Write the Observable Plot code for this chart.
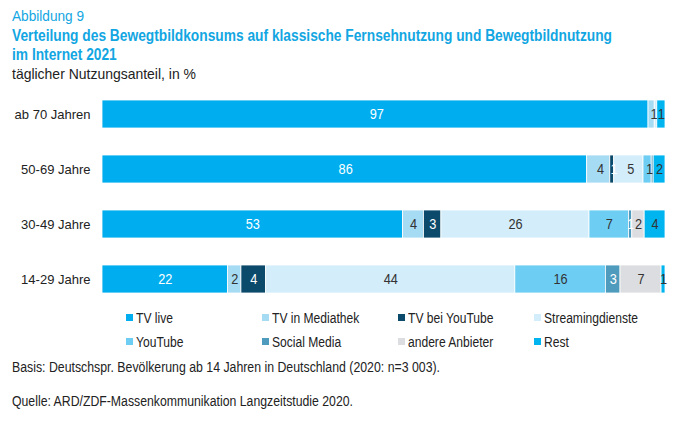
<!DOCTYPE html>
<html>
<head>
<meta charset="utf-8">
<script src="https://cdn.jsdelivr.net/npm/d3@7"></script>
<script src="https://cdn.jsdelivr.net/npm/@observablehq/plot@0.6"></script>
<style>
  html, body { margin: 0; padding: 0; background: #fff; }
  body { width: 694px; height: 427px; position: relative; overflow: hidden;
         font-family: "Liberation Sans", Arial, sans-serif; color: #222; }
  .abs { position: absolute; white-space: nowrap; display: inline-block; transform-origin: 0 50%; }
  #fig { left: 12px; top: 7px; font-size: 15px; color: #12a6e2; }
  #title1 { left: 12px; top: 27px; font-size: 16px; font-weight: bold; color: #12a6e2; }
  #title2 { left: 12px; top: 46px; font-size: 16px; font-weight: bold; color: #12a6e2; }
  #sub { left: 12px; top: 65px; font-size: 15px; color: #222; }
  #chart { left: 0; top: 86px; }
  .leg { position: absolute; font-size: 14px; white-space: nowrap; height: 16px; }
  .leg .sw { position: absolute; left: 0; top: 4px; width: 7px; height: 7px; }
  .leg .lt { position: absolute; left: 10px; top: 0; display: inline-block; transform-origin: 0 50%; line-height: 16px; }
  #basis { left: 12px; top: 359px; font-size: 14px; }
  #quelle { left: 12px; top: 393px; font-size: 14px; }
</style>
</head>
<body>
<div id="fig" class="abs">Abbildung 9</div>
<div id="title1" class="abs">Verteilung des Bewegtbildkonsums auf klassische Fernsehnutzung und Bewegtbildnutzung</div>
<div id="title2" class="abs">im Internet 2021</div>
<div id="sub" class="abs">täglicher Nutzungsanteil, in %</div>
<div id="chart" class="abs"></div>
<div id="legend"></div>
<div id="basis" class="abs">Basis: Deutschspr. Bevölkerung ab 14 Jahren in Deutschland (2020: n=3 003).</div>
<div id="quelle" class="abs">Quelle: ARD/ZDF-Massenkommunikation Langzeitstudie 2020.</div>
<script>
const groups = ["ab 70 Jahren", "50-69 Jahre", "30-49 Jahre", "14-29 Jahre"];
const series = ["TV live", "TV in Mediathek", "TV bei YouTube", "Streamingdienste",
                "YouTube", "Social Media", "andere Anbieter", "Rest"];
const colors = ["#00aeef", "#a6dbf4", "#0c4a6c", "#d3edfa",
                "#6dcdf3", "#4f9bbd", "#dcdde0", "#00b4f0"];
const labelColors = ["#fff", "#333", "#fff", "#333", "#333", "#fff", "#333", "#333"];

// shares per age group (ab 70, 50-69, 30-49, 14-29)
const tvLive     = [96.5, 86.0, 53.4, 22.3];
const mediathek  = [1.1, 4.1, 3.7, 2.4];
const tvYouTube  = [0, 0.7, 3.1, 4.4];
const streaming  = [0.45, 5.2, 26.3, 44.3];
const youtube    = [0, 1.45, 7.0, 16.1];
const social     = [0, 0.35, 0.6, 2.6];
const andere     = [0, 0, 2.2, 7.3];
const rest       = [1.45, 2.1, 3.7, 0.7];

const valuesBySeries = [tvLive, mediathek, tvYouTube, streaming, youtube, social, andere, rest];
const data = [];
series.forEach((s, i) => {
  groups.forEach((g, j) => {
    const v = valuesBySeries[i][j];
    if (v > 0) data.push({group: g, series: s, value: v, labelColor: labelColors[i]});
  });
});

const chart = Plot.plot({
  width: 694,
  height: 220,
  marginLeft: 102,
  marginRight: 29,
  marginTop: 0,
  marginBottom: 0,
  style: {fontFamily: '"Liberation Sans", Arial, sans-serif', background: "#fff"},
  x: {axis: null},
  y: {domain: groups, paddingInner: 0.5, paddingOuter: 0.25, label: null, axis: null},
  color: {domain: series, range: colors},
  marks: [
    Plot.barX(data, Plot.stackX({
      x: "value", y: "group", fill: "series", order: series, offset: "normalize",
      stroke: "#fff", strokeWidth: 0.8
    })),
    Plot.text(data.filter(d => d.value >= 0.6), Plot.stackX({
      x: "value", y: "group", z: "series", order: series, offset: "normalize",
      text: d => String(Math.round(d.value)), fill: "labelColor", fontSize: 15
    })),
    Plot.axisY({tickSize: 0, tickPadding: 12, fontSize: 13, label: null, fill: "#222"})
  ]
});
// condensed look for the in-bar numbers
chart.querySelectorAll("text").forEach(t => {
  if (!/^\d+$/.test(t.textContent.trim())) return;
  const tr = t.getAttribute("transform");
  if (tr && tr.includes("translate")) {
    t.setAttribute("transform", tr + " scale(0.85,1)");
  } else {
    const x = +(t.getAttribute("x") || 0);
    t.setAttribute("transform", `translate(${x},0) scale(0.85,1) translate(${-x},0)` + (tr ? " " + tr : ""));
  }
});
document.getElementById("chart").appendChild(chart);

const legendPos = [[126, 318], [262, 318], [398, 318], [534, 318],
                   [126, 342], [262, 342], [398, 342], [534, 342]];
const legend = document.getElementById("legend");
const legTexts = [];
series.forEach((s, i) => {
  const d = document.createElement("div");
  d.className = "leg";
  d.style.left = legendPos[i][0] + "px";
  d.style.top = (legendPos[i][1] - 8) + "px";
  d.innerHTML = `<span class="sw" style="background:${colors[i]}"></span><span class="lt">${s}</span>`;
  legend.appendChild(d);
  legTexts.push(d.querySelector(".lt"));
});

function fit(el, target) {
  const w = el.getBoundingClientRect().width;
  const k = target / w;
  el.style.transform = `scaleX(${k})`;
  return k;
}
fit(document.getElementById("fig"), 72);
const kt = fit(document.getElementById("title1"), 600);
document.getElementById("title2").style.transform = `scaleX(${kt})`;
fit(document.getElementById("sub"), 184);
fit(document.getElementById("basis"), 428);
fit(document.getElementById("quelle"), 341);
const kl = 94 / legTexts[3].getBoundingClientRect().width;
legTexts.forEach(t => t.style.transform = `scaleX(${kl})`);
</script>
</body>
</html>
